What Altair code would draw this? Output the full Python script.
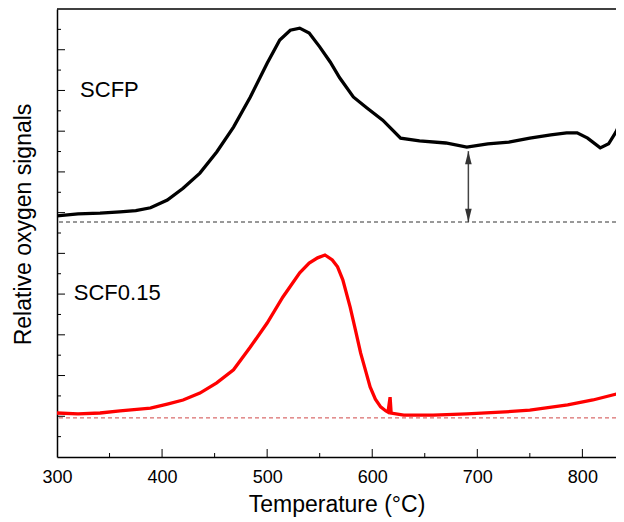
import altair as alt
import pandas as pd

# ---- data ----
scfp_temp = [300, 320, 341, 360, 375, 389, 405, 420, 436, 452, 468, 484, 500, 512, 522, 531,
             540, 550, 560, 569, 582, 595, 610, 627, 645, 670, 690, 710, 730, 750, 770,
             785, 795, 805, 817, 825, 832, 838, 840]
scfp_signal = [5.92, 5.97, 5.99, 6.02, 6.05, 6.12, 6.31, 6.60, 6.97, 7.49, 8.10, 8.84, 9.67, 10.24,
               10.48, 10.53, 10.41, 10.07, 9.70, 9.31, 8.84, 8.57, 8.27, 7.83, 7.76, 7.71,
               7.61, 7.69, 7.73, 7.83, 7.91, 7.96, 7.96, 7.83, 7.59, 7.69, 7.98, 8.32, 8.37]

scf_temp = [300, 320, 341, 360, 389, 405, 420, 436, 452, 468, 484, 500, 515, 531, 540, 548,
            555, 562, 567, 572, 579, 584, 589, 594, 598, 603, 608, 613, 615, 617, 618, 630,
            658, 690, 722, 750, 786, 810, 836, 840]
scf_signal = [1.08, 1.06, 1.08, 1.13, 1.20, 1.30, 1.40, 1.57, 1.82, 2.14, 2.70, 3.29, 3.93,
              4.52, 4.76, 4.89, 4.96, 4.84, 4.67, 4.35, 3.68, 3.12, 2.55, 2.09, 1.72, 1.42,
              1.23, 1.13, 1.10, 1.47, 1.08, 1.03, 1.03, 1.06, 1.10, 1.15, 1.28, 1.40, 1.57, 1.60]

baseline_scfp = [5.77]
baseline_scf = [0.96]

arrow_temp = [691.5]
arrow_top = [7.51]
arrow_bottom = [5.77]

label_text = ["SCFP", "SCF0.15"]
label_temp = [322, 316]
label_signal = [8.84, 3.85]

x_major = [400, 500, 600, 700, 800]
x_minor = [350, 450, 550, 650, 750]
x_labels = [300, 400, 500, 600, 700, 800]
y_major = [1, 2, 3, 4, 5, 6, 7, 8, 9, 10]
y_minor = [0.5, 1.5, 2.5, 3.5, 4.5, 5.5, 6.5, 7.5, 8.5, 9.5, 10.5]
y_top = [11]

W, H = 559, 448
FONT = "Liberation Sans"
xs = alt.Scale(domain=[300, 832], nice=False, zero=False)
ys = alt.Scale(domain=[0, 11], nice=False, zero=False)

x_axis = alt.Axis(values=x_labels, tickSize=0, labelPadding=11, labelFontSize=18,
                  labelFont=FONT, labelColor="black", labelFlush=False,
                  domainColor="black", domainWidth=1.5,
                  grid=False, title="Temperature (°C)", titleFontSize=23, titleFont=FONT,
                  titleFontWeight="normal", titleColor="black", titlePadding=7)
y_axis = alt.Axis(labels=False, ticks=False, grid=False, domainColor="black", domainWidth=1.5,
                  title="Relative oxygen signals", titleFontSize=23, titleFont=FONT,
                  titleFontWeight="normal", titleColor="black", titlePadding=22, titleY=215)

X = alt.X("temp:Q", scale=xs, axis=x_axis)
Y = alt.Y("signal:Q", scale=ys, axis=y_axis)

scfp_df = pd.DataFrame({"temp": scfp_temp, "signal": scfp_signal})
scf_df = pd.DataFrame({"temp": scf_temp, "signal": scf_signal})

black_line = alt.Chart(scfp_df).mark_line(color="black", strokeWidth=3.3, clip=True).encode(x=X, y=Y)
red_line = alt.Chart(scf_df).mark_line(color="#ff0000", strokeWidth=3.3, clip=True).encode(x=X, y=Y)

base_black = alt.Chart(pd.DataFrame({"signal": baseline_scfp})).mark_rule(
    color="#333333", strokeWidth=1, strokeDash=[4, 3]).encode(y=Y)
base_red = alt.Chart(pd.DataFrame({"signal": baseline_scf})).mark_rule(
    color="#d04848", strokeWidth=1, strokeDash=[4, 3]).encode(y=Y)

arrow_df = pd.DataFrame({"temp": arrow_temp, "signal": arrow_top, "signal2": arrow_bottom})
arrow_shaft = alt.Chart(arrow_df).mark_rule(color="#444444", strokeWidth=1.5).encode(
    x=X, y=Y, y2="signal2:Q")
arrow_up = alt.Chart(arrow_df).mark_point(
    shape="M0,0L-0.25,1L0.25,1Z", filled=True, color="#333333", size=700, opacity=1).encode(
    x=X, y=Y)
arrow_down_df = pd.DataFrame({"temp": arrow_temp, "signal": arrow_bottom})
arrow_down = alt.Chart(arrow_down_df).mark_point(
    shape="M0,0L-0.25,-1L0.25,-1Z", filled=True, color="#333333", size=700, opacity=1).encode(
    x=X, y=Y)

labels = alt.Chart(pd.DataFrame({"t": label_text, "temp": label_temp, "signal": label_signal})
                   ).mark_text(align="left", baseline="alphabetic", fontSize=22, font=FONT,
                               color="black").encode(x=X, y=Y, text="t:N")

top_border = alt.Chart(pd.DataFrame({"signal": y_top})).mark_rule(
    color="black", strokeWidth=1.5).encode(y=Y)

ymaj = alt.Chart(pd.DataFrame({"signal": y_major})).mark_rule(color="black", strokeWidth=1).encode(
    y=Y, x=alt.value(0), x2=alt.value(8))
ymin = alt.Chart(pd.DataFrame({"signal": y_minor})).mark_rule(color="black", strokeWidth=1).encode(
    y=Y, x=alt.value(0), x2=alt.value(4))
xmaj = alt.Chart(pd.DataFrame({"temp": x_major})).mark_rule(color="black", strokeWidth=1).encode(
    x=X, y=alt.value(H), y2=alt.value(H - 8))
xmin = alt.Chart(pd.DataFrame({"temp": x_minor})).mark_rule(color="black", strokeWidth=1).encode(
    x=X, y=alt.value(H), y2=alt.value(H - 4))

chart = alt.layer(
    black_line, red_line, base_black, base_red, arrow_shaft, arrow_up, arrow_down,
    labels, top_border, ymaj, ymin, xmaj, xmin,
).properties(
    width=W, height=H,
    autosize=alt.AutoSizeParams(type="none"),
    padding={"left": 49, "top": 1, "right": 0, "bottom": 62},
).configure(font=FONT).configure_view(stroke=None)

chart.save("out.html", embed_options={"renderer": "svg", "actions": False})
